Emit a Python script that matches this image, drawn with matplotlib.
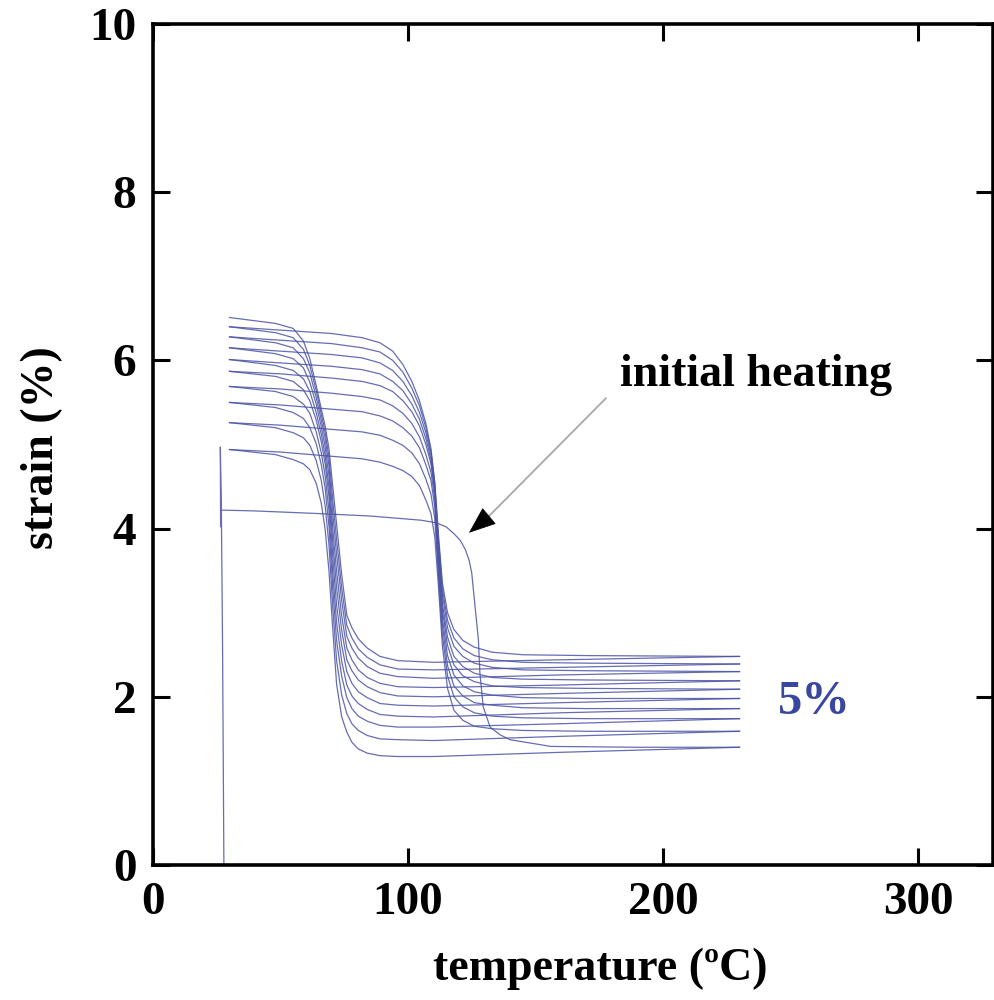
import numpy as np
import matplotlib.pyplot as plt

plt.rcParams['font.family'] = ['Liberation Serif', 'DejaVu Serif']
plt.rcParams['font.weight'] = 'bold'

# temperatures (C) shared by the cooling curves, from 230 down to 30
T_cool = [230, 160, 110, 96, 89, 84, 80.5, 78, 76, 74, 72, 70.5, 69, 67.5, 66, 64, 61.5, 59, 55, 48, 30]
# strain (%) of the 10 cooling curves, cycle 1 .. cycle 10
e_cool = [
    [1.40, 1.34, 1.29, 1.29, 1.30, 1.33, 1.38, 1.46, 1.58, 1.76, 2.15, 2.80, 3.50, 3.99, 4.30, 4.54, 4.70, 4.77, 4.82, 4.88, 4.94],
    [1.59, 1.53, 1.48, 1.49, 1.50, 1.54, 1.60, 1.68, 1.80, 2.02, 2.43, 3.06, 3.81, 4.27, 4.57, 4.81, 4.99, 5.08, 5.14, 5.20, 5.26],
    [1.74, 1.68, 1.64, 1.64, 1.66, 1.71, 1.77, 1.86, 1.99, 2.24, 2.67, 3.28, 4.03, 4.48, 4.76, 5.01, 5.20, 5.31, 5.38, 5.44, 5.50],
    [1.86, 1.81, 1.76, 1.77, 1.79, 1.85, 1.92, 2.01, 2.14, 2.42, 2.88, 3.47, 4.21, 4.63, 4.90, 5.15, 5.37, 5.48, 5.57, 5.63, 5.69],
    [1.98, 1.93, 1.89, 1.90, 1.92, 1.99, 2.06, 2.16, 2.30, 2.61, 3.09, 3.66, 4.38, 4.77, 5.03, 5.29, 5.52, 5.65, 5.75, 5.81, 5.87],
    [2.09, 2.04, 2.00, 2.01, 2.05, 2.12, 2.20, 2.31, 2.44, 2.79, 3.30, 3.84, 4.50, 4.87, 5.12, 5.38, 5.63, 5.78, 5.88, 5.94, 6.01],
    [2.19, 2.14, 2.11, 2.12, 2.16, 2.23, 2.32, 2.44, 2.58, 2.96, 3.49, 4.00, 4.63, 4.97, 5.21, 5.48, 5.74, 5.91, 6.02, 6.08, 6.15],
    [2.30, 2.26, 2.22, 2.24, 2.28, 2.36, 2.46, 2.58, 2.72, 3.14, 3.69, 4.18, 4.75, 5.07, 5.29, 5.56, 5.85, 6.02, 6.15, 6.21, 6.28],
    [2.39, 2.35, 2.32, 2.33, 2.38, 2.47, 2.57, 2.70, 2.85, 3.29, 3.87, 4.34, 4.85, 5.15, 5.36, 5.64, 5.94, 6.13, 6.27, 6.33, 6.40],
    [2.48, 2.44, 2.41, 2.43, 2.48, 2.58, 2.69, 2.82, 2.97, 3.45, 4.05, 4.50, 4.95, 5.22, 5.42, 5.70, 6.02, 6.23, 6.38, 6.44, 6.51],
]

# temperatures shared by the heating curves of cycles 2 .. 10
T_heat = [30, 50, 70, 82, 89, 94, 98, 101.5, 104.5, 107, 109, 110.5, 112, 113.5, 115.5, 118, 121.5, 126, 133, 145, 170, 230]
e_heat = [
    [4.94, 4.91, 4.86, 4.83, 4.79, 4.74, 4.69, 4.62, 4.51, 4.34, 4.18, 3.90, 3.29, 2.60, 2.10, 1.84, 1.72, 1.65, 1.62, 1.60, 1.59, 1.59],
    [5.26, 5.23, 5.18, 5.15, 5.11, 5.05, 4.99, 4.90, 4.77, 4.59, 4.41, 4.12, 3.41, 2.73, 2.25, 2.00, 1.88, 1.81, 1.77, 1.75, 1.74, 1.74],
    [5.50, 5.47, 5.42, 5.39, 5.34, 5.28, 5.20, 5.10, 4.96, 4.76, 4.57, 4.26, 3.49, 2.84, 2.37, 2.13, 2.01, 1.93, 1.90, 1.87, 1.86, 1.86],
    [5.69, 5.66, 5.61, 5.57, 5.53, 5.46, 5.37, 5.25, 5.09, 4.88, 4.67, 4.35, 3.58, 2.94, 2.49, 2.26, 2.13, 2.06, 2.02, 1.99, 1.98, 1.98],
    [5.87, 5.84, 5.79, 5.75, 5.70, 5.63, 5.52, 5.39, 5.22, 5.00, 4.77, 4.43, 3.65, 3.03, 2.61, 2.38, 2.25, 2.18, 2.13, 2.11, 2.10, 2.09],
    [6.01, 5.97, 5.93, 5.89, 5.84, 5.75, 5.64, 5.48, 5.30, 5.07, 4.82, 4.46, 3.72, 3.11, 2.71, 2.48, 2.36, 2.28, 2.23, 2.21, 2.20, 2.19],
    [6.15, 6.11, 6.07, 6.03, 5.97, 5.88, 5.75, 5.58, 5.38, 5.14, 4.87, 4.50, 3.79, 3.21, 2.82, 2.60, 2.48, 2.40, 2.35, 2.32, 2.31, 2.30],
    [6.28, 6.24, 6.20, 6.15, 6.10, 6.00, 5.86, 5.67, 5.46, 5.20, 4.92, 4.53, 3.85, 3.28, 2.91, 2.70, 2.57, 2.49, 2.44, 2.41, 2.40, 2.39],
    [6.40, 6.36, 6.32, 6.27, 6.21, 6.11, 5.95, 5.75, 5.52, 5.25, 4.95, 4.55, 3.90, 3.35, 3.00, 2.80, 2.67, 2.59, 2.53, 2.50, 2.49, 2.48],
]

# loading at room temperature followed by the initial heating
T_init = [27.8, 27.3, 26.8, 26.4, 26.5, 26.8, 40, 64, 85, 97, 105, 111, 115, 118, 120.5, 122.5,
          124, 125, 126.3, 127.6, 128.2, 129.5, 132.2, 136, 140, 156, 190, 230]
e_init = [0.0, 2.5, 4.27, 4.97, 4.02, 4.22, 4.21, 4.18, 4.15, 4.12, 4.10, 4.07, 4.02, 3.94, 3.86, 3.75,
          3.62, 3.47, 3.07, 2.68, 2.28, 1.88, 1.64, 1.55, 1.49, 1.41, 1.40, 1.40]

line_col = '#4b53a6'

fig = plt.figure(figsize=(9.95, 10), dpi=100)
ax = fig.add_axes([153 / 995, 135 / 1000, 840 / 995, 841 / 1000])

ax.plot(T_init, e_init, color=line_col, lw=0.9, alpha=0.85)
for e in e_heat:
    ax.plot(T_heat, e, color=line_col, lw=0.9, alpha=0.85)
for e in e_cool:
    ax.plot(T_cool, e, color=line_col, lw=0.9, alpha=0.85)

# arrow pointing at the initial heating curve
ax.plot([177.6, 131.8], [5.55, 4.15], color='#a8a8a8', lw=1.3)
ax.annotate('', xy=(123.9, 3.95), xytext=(131.8, 4.15),
            arrowprops=dict(arrowstyle='-|>,head_length=1.8,head_width=0.7',
                            color='black', shrinkA=0, shrinkB=0, lw=0.5))
ax.text(183, 5.83, 'initial heating', fontsize=33, fontweight='bold', va='center', ha='left')
ax.text(245, 1.94, '5%', fontsize=35, fontweight='bold', color='#3a479e', va='center', ha='left')

ax.set_xlim(0, 329.4)
ax.set_ylim(0, 10)
ax.set_xticks([0, 100, 200, 300])
ax.set_yticks([0, 2, 4, 6, 8, 10])
ax.tick_params(direction='in', length=12, width=2.2, labelsize=34, top=True, right=True, pad=12)
for s in ax.spines.values():
    s.set_linewidth(2.6)
for lab in ax.get_xticklabels() + ax.get_yticklabels():
    lab.set_fontweight('bold')

ax.set_xlabel('temperature (ºC)', fontsize=33, fontweight='bold', va='top')
ax.xaxis.set_label_coords(0.532, -0.098)
ax.set_ylabel('strain (%)', fontsize=33, fontweight='bold', va='center')
ax.yaxis.set_label_coords(-0.132, 0.496)

fig.savefig('out.png', dpi=100)
